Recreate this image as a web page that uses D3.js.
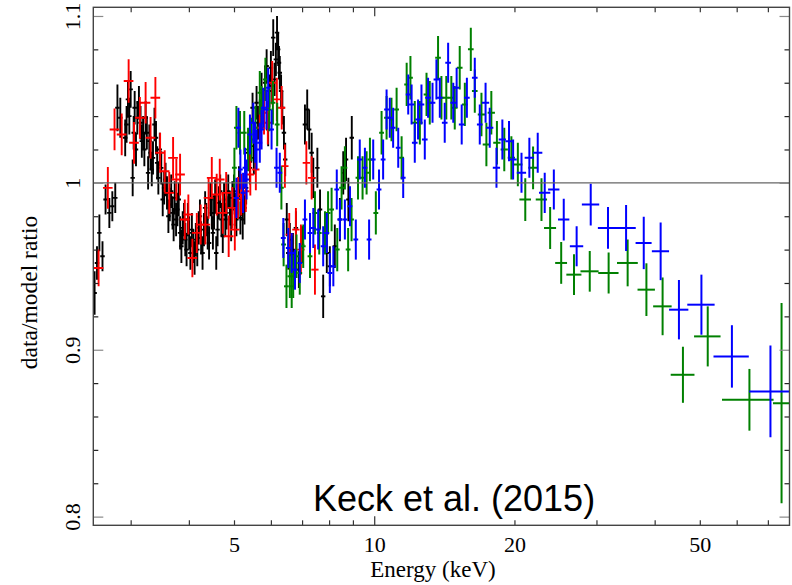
<!DOCTYPE html>
<html>
<head>
<meta charset="utf-8">
<script src="https://cdn.jsdelivr.net/npm/d3@7"></script>
<style>
  body { margin: 0; background: #fff; }
  svg { display: block; }
</style>
</head>
<body>
<script>
// rows: [energy (keV), half bin width (keV), data/model ratio, error]
let pnData = [
  [2.51,0.028,0.934,0.013],[2.54,0.028,0.952,0.010],[2.57,0.028,0.970,0.011],[2.61,0.029,0.956,0.009],
  [2.65,0.029,0.990,0.009],[2.70,0.030,0.982,0.009],[2.74,0.030,0.986,0.009],[2.78,0.031,0.991,0.009],
  [2.81,0.031,1.045,0.014],[2.85,0.031,1.039,0.012],[2.92,0.032,1.027,0.011],[2.96,0.033,1.050,0.011],
  [3.00,0.033,1.056,0.011],[3.03,0.033,1.003,0.011],[3.06,0.034,1.045,0.010],[3.10,0.034,1.039,0.010],
  [3.15,0.035,1.036,0.010],[3.19,0.035,1.030,0.010],[3.23,0.036,1.039,0.010],[3.27,0.036,1.006,0.010],
  [3.31,0.036,1.018,0.010],[3.35,0.037,1.015,0.010],[3.40,0.037,1.027,0.010],[3.44,0.038,1.003,0.010],
  [3.49,0.038,1.009,0.010],[3.54,0.039,0.997,0.010],[3.59,0.039,0.994,0.010],[3.64,0.040,0.987,0.010],
  [3.69,0.041,0.982,0.010],[3.73,0.041,0.991,0.010],[3.78,0.042,0.984,0.010],[3.83,0.042,0.970,0.010],
  [3.88,0.043,0.973,0.010],[3.93,0.043,0.966,0.010],[3.98,0.044,0.978,0.010],[4.03,0.044,0.958,0.010],
  [4.09,0.045,0.962,0.010],[4.14,0.046,0.966,0.010],[4.20,0.046,0.973,0.010],[4.25,0.047,0.967,0.010],
  [4.31,0.047,0.972,0.010],[4.36,0.048,0.978,0.010],[4.42,0.049,0.964,0.010],[4.48,0.049,0.982,0.010],
  [4.53,0.050,0.982,0.010],[4.58,0.050,0.958,0.010],[4.64,0.051,0.988,0.010],[4.70,0.052,0.978,0.010],
  [4.76,0.052,0.990,0.010],[4.82,0.053,0.982,0.010],[4.90,0.054,0.985,0.010],[4.96,0.055,0.991,0.010],
  [5.03,0.055,0.984,0.010],[5.09,0.056,0.991,0.010],[5.16,0.057,0.979,0.010],[5.22,0.057,0.978,0.012],
  [5.31,0.058,0.997,0.010],[5.41,0.060,1.009,0.010],[5.48,0.060,1.045,0.009],[5.55,0.061,1.026,0.010],
  [5.63,0.062,1.036,0.010],[5.73,0.063,1.056,0.010],[5.83,0.064,1.060,0.010],[5.92,0.065,1.032,0.010],
  [6.00,0.066,1.069,0.010],[6.07,0.067,1.087,0.011],[6.15,0.068,1.074,0.010],[6.22,0.068,1.080,0.010],
  [6.27,0.069,1.066,0.010],[6.35,0.070,1.045,0.010],[6.40,0.070,1.030,0.010],[6.44,0.071,1.014,0.010],
  [6.49,0.071,0.978,0.010],[6.54,0.072,0.958,0.010],[6.59,0.072,0.966,0.010],[6.69,0.074,0.960,0.010],
  [6.79,0.075,0.973,0.010],[6.89,0.076,0.948,0.011],[7.00,0.077,0.963,0.011],[7.10,0.078,1.035,0.012],
  [7.18,0.079,1.044,0.012],[7.25,0.080,1.032,0.012],[7.34,0.081,1.018,0.012],[7.40,0.081,1.003,0.012],
  [7.55,0.083,1.009,0.012],[7.65,0.084,0.984,0.012],[7.77,0.085,0.932,0.013],[7.91,0.087,0.958,0.012],
  [8.03,0.088,0.950,0.012],[8.23,0.091,0.962,0.013],[8.44,0.093,0.978,0.013],[8.58,0.094,1.006,0.013],
  [8.70,0.096,1.014,0.013],[8.80,0.097,0.990,0.013],[8.95,0.098,1.027,0.013],
  // the overlapping bins of the dense 3-6.3 keV band
  [2.94,0.032,1.035,0.011],[2.98,0.033,1.040,0.011],[3.045,0.033,1.030,0.010],[3.08,0.034,1.020,0.010],
  [3.125,0.034,1.048,0.010],[3.17,0.035,1.025,0.010],[3.21,0.035,1.020,0.010],[3.25,0.036,1.030,0.010],
  [3.29,0.036,1.025,0.010],[3.33,0.037,1.008,0.010],[3.375,0.037,1.035,0.010],[3.42,0.038,1.012,0.010],
  [3.465,0.038,1.020,0.010],[3.515,0.039,0.990,0.010],[3.565,0.039,1.002,0.010],[3.615,0.040,0.980,0.010],
  [3.665,0.040,0.995,0.010],[3.71,0.041,0.975,0.010],[3.755,0.041,0.978,0.010],[3.805,0.042,0.990,0.010],
  [3.855,0.042,0.962,0.010],[3.905,0.043,0.978,0.010],[3.955,0.044,0.960,0.010],[4.005,0.044,0.970,0.010],
  [4.06,0.045,0.972,0.010],[4.115,0.045,0.955,0.010],[4.17,0.046,0.960,0.010],[4.225,0.046,0.980,0.010],
  [4.28,0.047,0.958,0.010],[4.335,0.048,0.985,0.010],[4.39,0.048,0.970,0.010],[4.45,0.049,0.990,0.010],
  [4.505,0.050,0.970,0.010],[4.555,0.050,0.992,0.010],[4.61,0.051,0.972,0.010],[4.67,0.051,0.995,0.010],
  [4.73,0.052,0.968,0.010],[4.79,0.053,0.978,0.010],[4.86,0.053,0.995,0.010],[4.93,0.054,0.975,0.010],
  [5.00,0.055,0.995,0.010],[5.06,0.056,0.978,0.010],[5.125,0.056,1.000,0.010],[5.19,0.057,0.990,0.010],
  [5.265,0.058,0.985,0.010],[5.36,0.059,1.018,0.010],[5.445,0.060,1.022,0.010],[5.515,0.061,1.015,0.010],
  [5.59,0.061,1.048,0.010],[5.68,0.062,1.040,0.010],[5.78,0.064,1.045,0.010],[5.875,0.065,1.070,0.010],
  [5.96,0.066,1.055,0.010],[6.035,0.066,1.058,0.010],[6.11,0.067,1.062,0.010],[6.185,0.068,1.090,0.010],
  [6.245,0.069,1.072,0.010],[6.31,0.069,1.055,0.010]
]

let mosData = [
  [2.56,0.061,0.949,0.011],[2.68,0.064,0.997,0.0125],[2.77,0.066,1.032,0.0125],[2.87,0.069,1.029,0.0125],
  [2.97,0.071,1.061,0.013],[3.05,0.073,1.024,0.0125],[3.14,0.075,1.039,0.0125],[3.23,0.077,1.048,0.0125],
  [3.31,0.079,1.027,0.0125],[3.39,0.081,1.051,0.0125],[3.47,0.083,1.018,0.012],[3.55,0.085,1.007,0.0125],
  [3.63,0.087,0.994,0.0125],[3.70,0.089,1.015,0.0125],[3.76,0.090,1.002,0.0125],[3.83,0.092,1.005,0.0125],
  [3.92,0.094,0.978,0.012],[3.99,0.096,0.981,0.012],[4.07,0.098,0.955,0.0115],[4.16,0.100,0.970,0.012],
  [4.24,0.102,0.975,0.012],[4.34,0.104,0.975,0.012],[4.41,0.106,0.991,0.0125],[4.48,0.108,1.003,0.0125],
  [4.59,0.110,0.993,0.0125],[4.66,0.112,1.002,0.0125],[4.73,0.114,0.982,0.0125],[4.81,0.115,0.994,0.0125],
  [4.87,0.117,0.968,0.0125],[4.96,0.119,0.985,0.0125],[5.02,0.120,0.972,0.0125],[5.10,0.122,0.991,0.0125],
  [5.18,0.124,0.993,0.0125],[5.30,0.095,0.995,0.0125],[5.42,0.098,1.005,0.0125],[5.57,0.100,1.008,0.0125],
  [5.68,0.102,1.033,0.013],[5.80,0.104,1.042,0.013],[5.91,0.106,1.036,0.013],[6.04,0.109,1.060,0.013],
  [6.18,0.111,1.050,0.013],[6.33,0.114,1.045,0.013],[6.43,0.116,1.010,0.013],[6.57,0.118,0.969,0.013],
  [6.79,0.122,0.972,0.013],[6.96,0.125,0.960,0.015],[7.15,0.129,1.012,0.013],[7.34,0.132,1.003,0.013],
  [7.46,0.134,0.948,0.015]
]

let fpmaData = [
  [5.06,0.061,0.991,0.012],[5.11,0.061,1.033,0.012],[5.16,0.062,1.008,0.012],[5.23,0.063,0.994,0.012],
  [5.28,0.063,1.009,0.012],[5.32,0.064,1.002,0.012],[5.41,0.065,1.029,0.012],[5.50,0.066,1.036,0.012],
  [5.55,0.067,1.024,0.012],[5.59,0.067,1.020,0.012],[5.68,0.068,1.024,0.012],[5.73,0.069,1.032,0.012],
  [5.78,0.069,1.045,0.012],[5.87,0.070,1.044,0.012],[5.92,0.071,1.057,0.012],[6.02,0.072,1.032,0.012],
  [6.17,0.074,1.009,0.012],[6.27,0.075,1.006,0.012],[6.38,0.077,0.967,0.012],[6.54,0.078,0.961,0.012],
  [6.65,0.080,0.958,0.012],[6.76,0.081,0.948,0.012],[6.92,0.083,0.952,0.012],[7.10,0.085,0.978,0.012],
  [7.28,0.087,0.970,0.012],[7.40,0.089,0.973,0.012],[7.58,0.091,0.972,0.012],[7.77,0.093,0.962,0.012],
  [7.91,0.095,0.970,0.012],[8.03,0.096,0.946,0.012],[8.17,0.098,0.950,0.012],[8.31,0.100,0.996,0.012],
  [8.44,0.101,0.978,0.012],[8.65,0.104,0.978,0.012],[8.87,0.106,0.986,0.012],[9.13,0.110,0.966,0.012],
  [9.31,0.112,1.014,0.012],[9.55,0.115,1.009,0.012],[9.75,0.117,0.966,0.012],[9.95,0.119,1.014,0.012],
  [10.24,0.123,0.996,0.012],[10.45,0.125,1.014,0.012],[10.63,0.128,1.044,0.012],[10.80,0.130,1.039,0.012],
  [10.98,0.132,1.033,0.012],[11.26,0.135,1.021,0.012],[11.54,0.138,1.003,0.012],[11.83,0.142,1.053,0.012],
  [12.03,0.168,1.047,0.012],[12.22,0.171,1.024,0.012],[12.42,0.174,1.038,0.012],[12.63,0.177,1.047,0.012],
  [12.84,0.180,1.026,0.012],[13.05,0.183,1.051,0.012],[13.34,0.187,1.048,0.012],[13.60,0.190,1.062,0.012],
  [13.83,0.194,1.051,0.012],[14.17,0.198,1.036,0.012],[14.41,0.202,1.072,0.012],[14.78,0.207,1.048,0.012],
  [15.03,0.210,1.057,0.012],[15.41,0.216,1.035,0.012],[15.81,0.221,1.051,0.012],[16.44,0.230,1.063,0.012],
  [16.85,0.236,1.035,0.012],[17.34,0.312,1.048,0.012],[17.70,0.319,1.033,0.012],[18.30,0.329,1.009,0.012],
  [18.84,0.339,1.026,0.012],[19.47,0.350,1.025,0.012],[19.87,0.358,1.014,0.012],[20.71,0.476,1.006,0.012],
  [21.53,0.495,1.015,0.012],[22.44,0.516,1.018,0.012],[23.23,0.650,0.994,0.012],[24.30,0.680,0.996,0.012],
  [25.52,0.715,0.978,0.0125],[27.20,0.90,0.962,0.012],[29.16,1.25,0.987,0.0125],[31.76,1.55,0.973,0.0125],
  [34.73,1.70,0.973,0.0138],[37.9,1.5,0.964,0.0157],[41.2,1.75,0.959,0.0173],[45.1,2.15,0.924,0.0178],
  [50.4,3.4,0.927,0.018],[58.6,5.1,0.896,0.0187],[70.9,7.1,0.875,0.0275]
]

let fpmbData = [
  [5.01,0.060,1.009,0.012],[5.06,0.061,1.033,0.013],[5.15,0.062,1.030,0.013],[5.26,0.063,1.030,0.013],
  [5.36,0.064,1.020,0.013],[5.45,0.065,1.026,0.013],[5.56,0.067,1.033,0.013],[5.68,0.068,1.054,0.013],
  [5.73,0.069,1.045,0.013],[5.84,0.070,1.062,0.013],[5.95,0.071,1.044,0.013],[6.06,0.073,1.048,0.013],
  [6.19,0.074,1.035,0.013],[6.32,0.076,0.997,0.013],[6.39,0.077,0.963,0.013],[6.48,0.078,0.938,0.013],
  [6.59,0.079,0.944,0.013],[6.65,0.080,0.938,0.013],[6.70,0.080,0.944,0.013],[6.81,0.082,0.956,0.013],
  [6.92,0.083,0.946,0.013],[7.04,0.084,0.962,0.013],[7.28,0.087,0.956,0.013],[7.46,0.090,0.982,0.013],
  [7.62,0.091,0.970,0.013],[7.84,0.094,0.970,0.013],[7.96,0.096,0.982,0.013],[8.10,0.097,0.984,0.013],
  [8.33,0.100,0.960,0.013],[8.51,0.102,0.997,0.013],[8.65,0.104,1.009,0.013],[8.79,0.105,0.960,0.013],
  [8.94,0.107,0.978,0.013],[9.23,0.111,1.003,0.013],[9.44,0.113,1.003,0.013],[9.63,0.116,1.006,0.013],
  [9.79,0.117,1.014,0.013],[10.08,0.121,0.982,0.013],[10.37,0.124,1.030,0.013],[10.63,0.128,1.039,0.013],
  [10.89,0.131,1.038,0.013],[11.17,0.134,1.044,0.013],[11.45,0.137,1.015,0.013],[11.74,0.141,1.059,0.013],
  [11.96,0.144,1.063,0.013],[12.22,0.171,1.036,0.013],[12.53,0.175,1.036,0.013],[12.95,0.181,1.053,0.013],
  [13.16,0.184,1.048,0.013],[13.71,0.192,1.075,0.013],[13.94,0.195,1.051,0.013],[14.28,0.200,1.051,0.013],
  [14.64,0.205,1.051,0.013],[14.89,0.208,1.045,0.013],[15.26,0.214,1.069,0.013],[15.65,0.219,1.047,0.013],
  [16.12,0.226,1.080,0.013],[16.44,0.230,1.055,0.013],[16.99,0.306,1.041,0.013],[17.41,0.313,1.023,0.013],
  [17.84,0.321,1.042,0.013],[18.34,0.330,1.024,0.013],[19.02,0.342,1.020,0.013],[19.70,0.355,1.015,0.013],
  [20.34,0.468,1.011,0.013],[21.10,0.605,0.990,0.0128],[21.93,0.505,1.009,0.0128],[22.86,0.640,0.990,0.0128],
  [23.86,0.710,0.973,0.0126],[25.20,0.740,0.952,0.0125],[26.85,1.0,0.945,0.0122],[29.02,1.3,0.947,0.0122],
  [31.86,1.6,0.946,0.0123],[35.0,1.8,0.952,0.014],[38.4,1.65,0.936,0.0158],[41.6,1.9,0.926,0.0173],
  [46.0,2.7,0.885,0.0168],[52.0,3.4,0.908,0.018],[63.9,8.1,0.870,0.0185],[74.9,3.1,0.868,0.06]
]

let xTicks = [3, 4, 5, 6, 7, 8, 9, 10, 20, 30, 40, 50, 60, 70]
let xMajorTicks = [10]
let xLabels = [5, 10, 20, 50]
let yMinorTicks = [0.82, 0.84, 0.86, 0.88, 0.92, 0.94, 0.96, 0.98, 1.02, 1.04, 1.06, 1.08]
let yMajorTicks = [0.8, 0.9, 1, 1.1]

var margin = { top: 7.3, right: 2.5, bottom: 59.7, left: 93.3 },
    width = 792 - margin.left - margin.right,
    height = 585 - margin.top - margin.bottom;

var svg = d3.select("body").append("svg")
    .attr("width", 792)
    .attr("height", 585)
    .append("g")
    .attr("transform", "translate(" + margin.left + "," + margin.top + ")");

var x = d3.scaleLog()
    .domain([2.494, 77.9])
    .range([0, width]);

var y = d3.scaleLinear()
    .domain([0.7948, 1.1052])
    .range([height, 0]);

svg.append("clipPath").attr("id", "plotclip")
    .append("rect").attr("width", width).attr("height", height)

var plot = svg.append("g").attr("clip-path", "url(#plotclip)")

// error crosses, drawn in the xspec group order
var groups = [
    { rows: pnData, color: "#000000", w: 1.9 },
    { rows: mosData, color: "#ff0000", w: 1.9 },
    { rows: fpmbData, color: "#008000", w: 2 },
    { rows: fpmaData, color: "#0000ff", w: 2 }
]

groups.forEach(function (g) {
    var sel = plot.append("g")
        .attr("stroke", g.color)
        .attr("stroke-width", g.w)
        .selectAll("g")
        .data(g.rows)
        .enter()
        .append("g")
    sel.append("line")
        .attr("x1", d => x(d[0] - d[1]))
        .attr("x2", d => x(d[0] + d[1]))
        .attr("y1", d => y(d[2]))
        .attr("y2", d => y(d[2]))
    sel.append("line")
        .attr("x1", d => x(d[0]))
        .attr("x2", d => x(d[0]))
        .attr("y1", d => y(d[2] - d[3]))
        .attr("y2", d => y(d[2] + d[3]))
})

// ratio = 1 reference
plot.append("line")
    .attr("x1", 0).attr("x2", width)
    .attr("y1", y(1)).attr("y2", y(1))
    .attr("stroke", "#666").attr("stroke-width", 1.3)

// axes
function styleAxis(g, color) {
    g.select(".domain").remove()
    g.selectAll(".tick line").attr("stroke", color).attr("stroke-width", 1.2)
}

var xAxis = d3.axisBottom(x)
    .tickValues(xTicks)
    .tickSize(-5)
    .tickPadding(10.8)
    .tickFormat(d => xLabels.includes(d) ? d : "")

svg.append("g")
    .attr("transform", "translate(0," + height + ")")
    .call(xAxis)
    .call(g => styleAxis(g, "#333"))
    .call(g => g.selectAll(".tick line").filter(d => xMajorTicks.includes(d)).attr("y2", -9))
    .call(g => g.selectAll("text")
        .attr("font-family", "'Liberation Serif', 'Times New Roman', serif")
        .attr("font-size", 22).attr("fill", "#000"))

svg.append("g")
    .call(d3.axisTop(x).tickValues(xTicks).tickSize(-5).tickFormat(""))
    .call(g => styleAxis(g, "#333"))
    .call(g => g.selectAll(".tick line").filter(d => xMajorTicks.includes(d)).attr("y2", 9))

svg.append("g")
    .call(d3.axisLeft(y).tickValues(yMinorTicks).tickSize(-5).tickFormat(""))
    .call(g => styleAxis(g, "#222"))

svg.append("g")
    .call(d3.axisLeft(y).tickValues(yMajorTicks).tickSize(-10).tickPadding(0).tickFormat(d => String(d)))
    .call(g => styleAxis(g, "#8a8a8a"))
    .call(g => g.selectAll("text")
        .attr("transform", "rotate(-90)")
        .attr("text-anchor", "middle")
        .attr("x", 0).attr("y", -13.3).attr("dy", 0)
        .attr("font-family", "'Liberation Serif', 'Times New Roman', serif")
        .attr("font-size", 22).attr("fill", "#000"))

svg.append("g")
    .attr("transform", "translate(" + width + ",0)")
    .call(d3.axisRight(y).tickValues(yMinorTicks).tickSize(-5).tickFormat(""))
    .call(g => styleAxis(g, "#222"))

svg.append("g")
    .attr("transform", "translate(" + width + ",0)")
    .call(d3.axisRight(y).tickValues(yMajorTicks).tickSize(-10).tickFormat(""))
    .call(g => styleAxis(g, "#8a8a8a"))

// frame
svg.append("rect")
    .attr("width", width).attr("height", height)
    .attr("fill", "none").attr("stroke", "#444").attr("stroke-width", 1.4)

// labels
svg.append("text")
    .attr("x", 433 - margin.left).attr("y", 577 - margin.top)
    .attr("text-anchor", "middle")
    .attr("font-family", "'Liberation Serif', 'Times New Roman', serif")
    .attr("font-size", 23)
    .text("Energy (keV)")

svg.append("text")
    .attr("transform", "translate(" + (37 - margin.left) + "," + (292.5 - margin.top) + ") rotate(-90)")
    .attr("text-anchor", "middle")
    .attr("font-family", "'Liberation Serif', 'Times New Roman', serif")
    .attr("font-size", 23.5)
    .text("data/model ratio")

svg.append("text")
    .attr("x", 313 - margin.left).attr("y", 511 - margin.top)
    .attr("font-family", "'Liberation Sans', Arial, sans-serif")
    .attr("font-size", 36)
    .text("Keck et al. (2015)")
</script>
</body>
</html>
